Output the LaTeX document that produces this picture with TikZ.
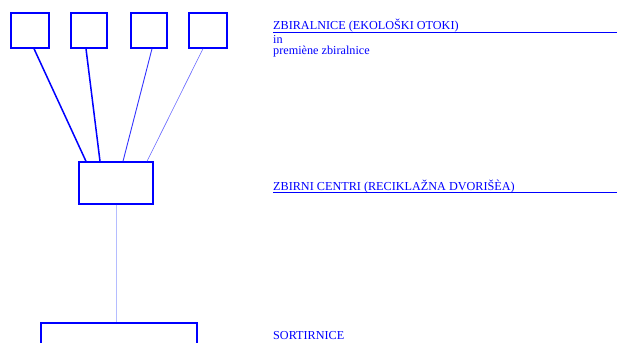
\documentclass[tikz,border=0pt]{standalone}
\usepackage{fontspec}
\setmainfont{Liberation Serif}
\usetikzlibrary{positioning,calc}
\definecolor{ink}{HTML}{0000FF}
\definecolor{pale}{HTML}{B4BCFF}
\tikzset{
  box/.style={rectangle,draw=ink,line width=1.4pt,inner sep=0pt},
  level/.style={anchor=base west,inner sep=0pt,text=ink,font=\fontsize{12.2}{13}\selectfont},
  link/.style={draw=ink,line width=1.5pt},
  rule/.style={draw=ink,line width=0.9pt}
}
\begin{document}
\begin{tikzpicture}[x=1pt,y=-1pt]
  \useasboundingbox (0,0) rectangle (617,342);
  \clip (0,0) rectangle (617,342);
  % collection points
  \node[box,minimum width=38pt,minimum height=35pt] (b1) at (30,30.5) {};
  \node[box,minimum width=36pt,minimum height=35pt] (b2) at (89,30.5) {};
  \node[box,minimum width=36pt,minimum height=35pt] (b3) at (149,30.5) {};
  \node[box,minimum width=38pt,minimum height=35pt] (b4) at (208,30.5) {};
  \node[box,minimum width=74pt,minimum height=42pt] (centre) at (116,183) {};
  \node[box,minimum width=156pt,minimum height=44pt] (sort) at (119,345) {};
  % connectors
  \draw[link] ($(b1.south)+(4,0)$) -- ($(centre.north)+(-30,0)$);
  \draw[link] ($(b2.south)+(-3,0)$) -- ($(centre.north)+(-16,0)$);
  \draw[draw=ink!80,line width=0.9pt] ($(b3.south)+(3,0)$) -- ($(centre.north)+(7,0)$);
  \draw[draw=ink!60,line width=0.6pt] ($(b4.south)+(-5,0)$) -- ($(centre.north)+(31,0)$);
  \draw[pale,line width=0.6pt] (centre.south) -- (centre.south |- sort.north);
  % labels
  \node[level] (t1) at (273,30) {ZBIRALNICE (EKOLOŠKI OTOKI)};
  \coordinate (e1) at (617,32);
  \draw[rule] (t1.base west |- e1) -- (e1);
  \node[level] (t1b) at (273,43.5) {in};
  \node[level] (t1c) at (273,55) {premiène zbiralnice};
  \node[level] (t2) at (273,190) {ZBIRNI CENTRI (RECIKLAŽNA DVORIŠÈA)};
  \coordinate (e2) at (617,192);
  \draw[rule] (t2.base west |- e2) -- (e2);
  \node[level] (t3) at (273,339) {SORTIRNICE};
\end{tikzpicture}
\end{document}
